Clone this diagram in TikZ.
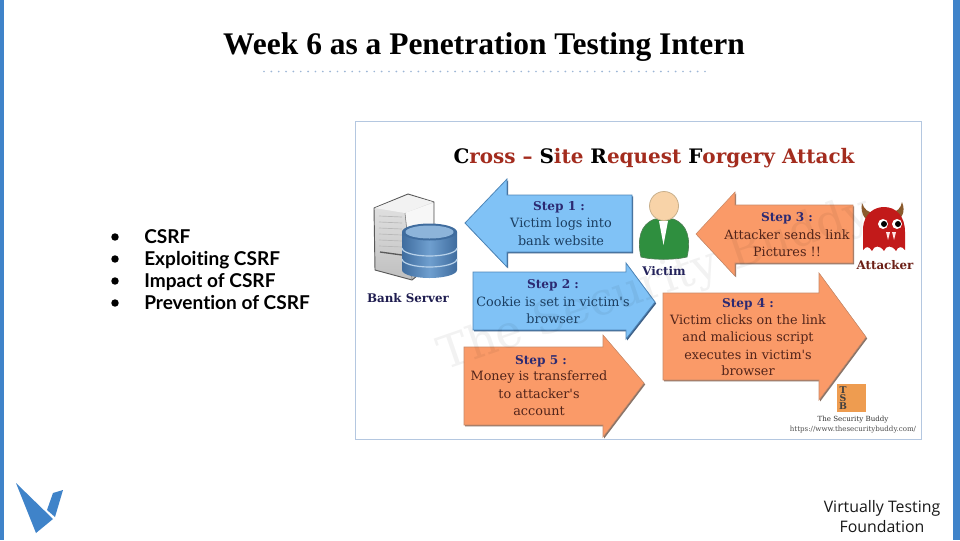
\documentclass[tikz,border=0pt]{standalone}
\usepackage{fontspec}
\setmainfont{Liberation Serif}
\newfontfamily\imgserif{DejaVu Serif}
\newfontfamily\bulletfont[Ligatures=NoCommon]{Lato}
\newfontfamily\footfont{Open Sans}
\usetikzlibrary{calc}
\definecolor{barblue}{HTML}{3F83C9}
\definecolor{framec}{HTML}{B4C7E0}
\definecolor{dotc}{HTML}{9DB6D6}
\definecolor{bluefill}{HTML}{80C2F6}
\definecolor{blueedge}{HTML}{4F86B8}
\definecolor{blueshadow}{HTML}{3D5F86}
\definecolor{orangefill}{HTML}{FA9A68}
\definecolor{orangeedge}{HTML}{C98A68}
\definecolor{orangeshadow}{HTML}{8A7468}
\definecolor{stepc}{HTML}{2C2A72}
\definecolor{bluetext}{HTML}{1C3F62}
\definecolor{orangetext}{HTML}{52241A}
\definecolor{headred}{HTML}{A32C1E}
\definecolor{cylmid}{HTML}{6F9FCF}
\definecolor{cyledge}{HTML}{3F6C9E}
\definecolor{cyltop}{HTML}{8DB4DA}
\definecolor{cylline}{HTML}{B8D2EA}
\definecolor{coat}{HTML}{2F8F3F}
\definecolor{coatedge}{HTML}{4E7F55}
\definecolor{skin}{HTML}{F8D3A8}
\definecolor{skinedge}{HTML}{C9B08C}
\definecolor{devil}{HTML}{C21A1A}
\definecolor{horn}{HTML}{8A5A2C}
\definecolor{badge}{HTML}{EE9C50}
\newcommand{\pxfont}[1]{\fontsize{#1}{#1}\selectfont}
\tikzset{
  x=0.75pt,y=-0.75pt,
  bluearrow/.style={fill=bluefill,draw=blueedge,line width=0.6pt,line join=miter,
    preaction={fill=blueshadow,draw=none,transform canvas={xshift=0.9pt,yshift=-1.1pt}}},
  orangearrow/.style={fill=orangefill,draw=orangeedge,line width=0.4pt,line join=miter,
    preaction={fill=orangeshadow,draw=none,transform canvas={xshift=0.9pt,yshift=-1.1pt}}},
  steplabel/.style={font=\imgserif\bfseries\pxfont{9.1},text=stepc,inner sep=0pt,anchor=center},
  bluetxt/.style={font=\imgserif\pxfont{9.6},text=bluetext,inner sep=0pt,anchor=center},
  orangetxt/.style={font=\imgserif\pxfont{9.6},text=orangetext,inner sep=0pt,anchor=center},
  caption/.style={font=\imgserif\bfseries\pxfont{8.9},inner sep=0pt,anchor=center},
  bullettxt/.style={font=\bulletfont\bfseries\pxfont{14.3},text=black,inner sep=0pt,anchor=base west},
  bulletdot/.style={circle,fill=black,inner sep=0pt,minimum size=5.6pt},
  foottxt/.style={font=\footfont\pxfont{11.9},text=black!90,inner sep=0pt,anchor=center},
  logoshape/.style={fill=barblue,draw=none},
}
\begin{document}
\begin{tikzpicture}
\useasboundingbox (0,0) rectangle (960,540);
\fill[white] (0,0) rectangle (960,540);
% side bars
\fill[barblue] (0,0) rectangle (4,540);
\fill[barblue] (953,0) rectangle (960,540);
% title
\node[font=\bfseries\pxfont{23.6},inner sep=0pt,anchor=center] (title) at (484,47) {Week 6 as a Penetration Testing Intern};
\foreach \dd in {0,...,60}{\fill[dotc] (264+\dd*7.35,71.5) circle[radius=0.95];}
% bullets
\node[bulletdot] (b1) at (115,237) {};
\node[bulletdot] (b2) at (115,259) {};
\node[bulletdot] (b3) at (115,281) {};
\node[bulletdot] (b4) at (115,303) {};
\node[bullettxt] (t1) at (144,243) {CSRF};
\node[bullettxt] (t2) at (144,265.5) {Exploiting CSRF};
\node[bullettxt] (t3) at (144,287.5) {Impact of CSRF};
\node[bullettxt] (t4) at (144,309.5) {Prevention of CSRF};
% image frame
\draw[framec,line width=0.75pt,fill=white] (355.5,121.5) rectangle (921.5,439.5);
% image heading
\node[font=\imgserif\bfseries\pxfont{14.97},inner sep=0pt,text=headred] (imgtitle) at (654,158)
  {\textcolor{black}{C}ross – \textcolor{black}{S}ite \textcolor{black}{R}equest \textcolor{black}{F}orgery Attack};
% arrows
\path[bluearrow] (465,223) -- (507,179) -- (507,195) -- (632,195) -- (632,252) -- (507,252) -- (507,267) -- cycle;
\path[bluearrow] (473,272) -- (626,272) -- (626,263) -- (655,302) -- (626,339) -- (626,330) -- (473,330) -- cycle;
\path[orangearrow] (696,234) -- (735,192) -- (735,205) -- (853,205) -- (853,263) -- (735,263) -- (735,276) -- cycle;
\path[orangearrow] (663,293) -- (819,293) -- (819,273) -- (866,337) -- (819,400) -- (819,380) -- (663,380) -- cycle;
\path[orangearrow] (464,347) -- (603,347) -- (603,335) -- (644,383) -- (603,437) -- (603,425) -- (464,425) -- cycle;
% watermark
\node[font=\imgserif\pxfont{34},text=black,opacity=0.05,rotate=19,inner sep=0pt] (mark) at (655,285) {The Security Buddy};
% arrow texts
\node[steplabel] (s1) at (559,207) {Step 1 :};
\node[bluetxt] (s1a) at (561,224) {Victim logs into};
\node[bluetxt] (s1b) at (561,241) {bank website};
\node[steplabel] (s2) at (553,285) {Step 2 :};
\node[bluetxt] (s2a) at (553,302) {Cookie is set in victim's};
\node[bluetxt] (s2b) at (553,319) {browser};
\node[steplabel] (s3) at (787,218) {Step 3 :};
\node[orangetxt] (s3a) at (787,235) {Attacker sends link};
\node[orangetxt] (s3b) at (787,252) {Pictures !!};
\node[steplabel] (s4) at (748,304) {Step 4 :};
\node[orangetxt] (s4a) at (748,320) {Victim clicks on the link};
\node[orangetxt] (s4b) at (748,338) {and malicious script};
\node[orangetxt] (s4c) at (748,355) {executes in victim's};
\node[orangetxt] (s4d) at (748,371) {browser};
\node[steplabel] (s5) at (541,361) {Step 5 :};
\node[orangetxt] (s5a) at (539,377) {Money is transferred};
\node[orangetxt] (s5b) at (539,394) {to attacker's};
\node[orangetxt] (s5c) at (539,411) {account};
% server
\path[draw=black!65,line width=0.7pt,line join=round,top color=black!10,bottom color=black!25]
  (374,208) -- (408,194) -- (434,202) -- (434,262) -- (412,280) -- (375,270) -- cycle;
\path[fill=black!5] (408,195) -- (433,202) -- (405,213) -- (375,208) -- cycle;
\path[fill=black!3] (405,213) -- (433,203) -- (433,240) -- (409,240) -- cycle;
\foreach \yy in {216,222,228,234,240,246}{\draw[black!28,line width=0.5pt] (379,\yy) -- (402,\yy+1);}
\draw[black!65,line width=1pt] (380,252) -- (402,255);
\draw[black!55,line width=0.4pt] (405,213) -- (412,279);
% cylinder
\path[left color=cyledge,right color=cyledge,middle color=cylmid,draw=none]
  (402,232) -- (402,270) arc[x radius=27.5,y radius=8,start angle=180,end angle=0] -- (457,232) -- cycle;
\draw[cylline,line width=0.9pt] (402,248) arc[x radius=27.5,y radius=8,start angle=180,end angle=0];
\draw[cylline,line width=0.9pt] (402,259) arc[x radius=27.5,y radius=8,start angle=180,end angle=0];
\fill[cyledge] (429.5,232) ellipse[x radius=27.5,y radius=8.5];
\fill[cyltop] (429.5,232) ellipse[x radius=24,y radius=6.5];
\node[caption,text=stepc!70!black] (bank) at (408,298) {Bank Server};
% victim
\path[fill=coat,draw=coatedge,line width=0.5pt]
  (641,257) .. controls (637,240) and (640,224) .. (655,219) -- (673,219) .. controls (688,224) and (691,240) .. (687,257) .. controls (675,260) and (652,260) .. (641,257) -- cycle;
\path[fill=white] (659,221) -- (668,221) -- (663.5,245) -- cycle;
\path[fill=skin,draw=skinedge,line width=0.6pt] (664,206) circle[radius=14.5];
\node[caption,text=stepc!80!black] (victim) at (664,271) {Victim};
% attacker
\path[fill=horn] (862,203) .. controls (860,215) and (866,221) .. (873,223) -- (875,213) .. controls (868,213) and (864,209) .. (862,203) -- cycle;
\path[fill=horn] (902,202) .. controls (906,212) and (902,219) .. (894,222) -- (892,212) .. controls (897,212) and (901,208) .. (902,202) -- cycle;
\path[fill=devil]
  (863,250) -- (863,228) .. controls (864,214) and (874,207) .. (884,207) .. controls (896,207) and (905,216) .. (905,232) -- (905,250)
  .. controls (902,246) and (898,246) .. (896,251) .. controls (892,245) and (886,245) .. (884,251) .. controls (880,245) and (874,245) .. (872,251) .. controls (869,246) and (866,246) .. (863,250) -- cycle;
\fill[white] (883,224) circle[radius=5];
\fill[white] (897,224) circle[radius=5];
\fill[black] (884,224) circle[radius=3];
\fill[black] (898,224) circle[radius=3];
\fill[white!90!red] (886,232) -- (890,232) -- (888,240) -- cycle;
\fill[white!90!red] (892,232) -- (896,232) -- (894,240) -- cycle;
\node[caption,text=orangetext!85!red] (attacker) at (885,265.5) {Attacker};
% TSB badge
\path[fill=badge] (837,384) rectangle (866,412);
\node[font=\imgserif\bfseries\pxfont{7},text=black!75,inner sep=0pt] (tsbT) at (843,390) {T};
\node[font=\imgserif\bfseries\pxfont{7},text=black!75,inner sep=0pt] (tsbS) at (843,398) {S};
\node[font=\imgserif\bfseries\pxfont{7},text=black!75,inner sep=0pt] (tsbB) at (843,406) {B};
% credit
\node[font=\imgserif\pxfont{5.3},text=black!80,inner sep=0pt] (credit1) at (853,420) {The Security Buddy};
\node[font=\imgserif\pxfont{5.3},text=black!70,inner sep=0pt] (credit2) at (853,430) {https://www.thesecuritybuddy.com/};
% logo
\path[logoshape] (16,483) -- (53,519) -- (36,533) -- cycle;
\path[logoshape] (47,510) -- (53,493) -- (63,490) -- (55,517) -- cycle;
% footer
\node[foottxt] (foot1) at (882,508) {Virtually Testing};
\node[foottxt] (foot2) at (882,527) {Foundation};
\end{tikzpicture}
\end{document}
